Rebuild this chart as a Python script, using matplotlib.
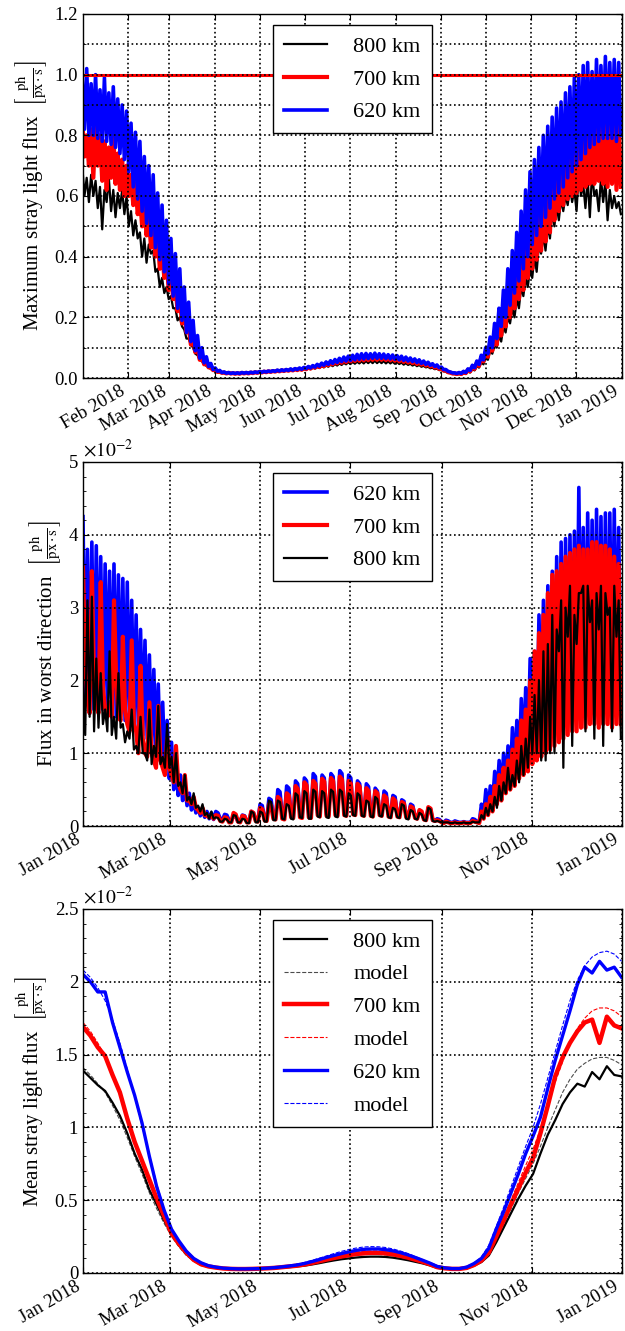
import numpy as np
import matplotlib
matplotlib.use('Agg')
from matplotlib import pyplot as plt
import matplotlib.dates as mdates
from matplotlib import ticker

# Time grids ###########################################################
# noisy series: a peak and a trough reading every 3 days (trough 1.5 d later)
t0 = np.datetime64('2018-01-01T00', 'h')
days_noisy = np.arange(0, 364, 3)
days_mean = np.arange(0, 366, 5)       # smooth series, one sample every 5 days
dates_hi = t0 + (days_noisy * 24).astype('timedelta64[h]')
dates_lo = dates_hi + np.timedelta64(36, 'h')
dates_mean = t0 + (days_mean * 24).astype('timedelta64[h]')

# Maximum stray light flux [ph/(px s)] ##################################
max_800_hi = [0.70, 0.66, 0.67, 0.65, 0.63, 0.62, 0.66, 0.62, 0.61, 0.62,
              0.60, 0.55, 0.52, 0.48, 0.46, 0.44, 0.42, 0.36, 0.33, 0.30,
              0.27, 0.23, 0.20, 0.16, 0.13, 0.10, 0.075, 0.055, 0.04, 0.03,
              0.024, 0.018, 0.016, 0.015, 0.015, 0.015, 0.015, 0.016, 0.017, 0.018,
              0.019, 0.020, 0.021, 0.022, 0.023, 0.024, 0.025, 0.026, 0.027, 0.029,
              0.030, 0.032, 0.034, 0.036, 0.039, 0.041, 0.044, 0.046, 0.048, 0.050,
              0.052, 0.053, 0.054, 0.055, 0.056, 0.056, 0.057, 0.056, 0.056, 0.055,
              0.054, 0.053, 0.051, 0.049, 0.047, 0.045, 0.043, 0.040, 0.037, 0.034,
              0.031, 0.026, 0.021, 0.016, 0.013, 0.013, 0.016, 0.021, 0.029, 0.039,
              0.052, 0.07, 0.09, 0.11, 0.14, 0.17, 0.20, 0.23, 0.26, 0.30,
              0.33, 0.36, 0.40, 0.44, 0.47, 0.50, 0.55, 0.57, 0.59, 0.60,
              0.63, 0.62, 0.68, 0.64, 0.66, 0.68, 0.62, 0.66, 0.65, 0.62,
              0.60, 0.58]
max_800_lo = [0.60, 0.58, 0.60, 0.56, 0.49, 0.58, 0.55, 0.53, 0.56, 0.54,
              0.50, 0.47, 0.46, 0.40, 0.38, 0.41, 0.35, 0.30, 0.28, 0.26,
              0.23, 0.19, 0.17, 0.13, 0.11, 0.08, 0.06, 0.045, 0.035, 0.025,
              0.020, 0.016, 0.014, 0.013, 0.013, 0.013, 0.014, 0.014, 0.015, 0.016,
              0.017, 0.018, 0.019, 0.020, 0.021, 0.022, 0.023, 0.024, 0.025, 0.026,
              0.027, 0.029, 0.031, 0.033, 0.035, 0.037, 0.039, 0.041, 0.043, 0.045,
              0.046, 0.047, 0.048, 0.048, 0.049, 0.049, 0.049, 0.049, 0.048, 0.048,
              0.047, 0.046, 0.044, 0.043, 0.041, 0.039, 0.037, 0.035, 0.032, 0.029,
              0.026, 0.022, 0.017, 0.013, 0.011, 0.011, 0.014, 0.018, 0.025, 0.034,
              0.045, 0.06, 0.08, 0.10, 0.12, 0.15, 0.18, 0.20, 0.23, 0.27,
              0.30, 0.33, 0.35, 0.41, 0.42, 0.46, 0.50, 0.52, 0.55, 0.57,
              0.58, 0.55, 0.60, 0.56, 0.53, 0.60, 0.55, 0.58, 0.52, 0.56,
              0.56, 0.54]
max_700_hi = [0.85, 0.80, 0.82, 0.84, 0.80, 0.78, 0.76, 0.80, 0.74, 0.72,
              0.70, 0.67, 0.64, 0.60, 0.57, 0.54, 0.50, 0.47, 0.43, 0.39,
              0.35, 0.31, 0.27, 0.22, 0.17, 0.13, 0.10, 0.07, 0.05, 0.035,
              0.027, 0.021, 0.018, 0.017, 0.016, 0.016, 0.017, 0.017, 0.018, 0.019,
              0.020, 0.021, 0.022, 0.023, 0.024, 0.025, 0.026, 0.027, 0.029, 0.030,
              0.032, 0.035, 0.038, 0.041, 0.045, 0.049, 0.052, 0.056, 0.059, 0.062,
              0.065, 0.067, 0.069, 0.071, 0.072, 0.072, 0.073, 0.072, 0.071, 0.069,
              0.068, 0.066, 0.064, 0.062, 0.059, 0.056, 0.053, 0.050, 0.046, 0.042,
              0.038, 0.032, 0.025, 0.018, 0.015, 0.016, 0.020, 0.027, 0.037, 0.050,
              0.066, 0.085, 0.11, 0.14, 0.18, 0.22, 0.26, 0.30, 0.34, 0.38,
              0.43, 0.48, 0.50, 0.53, 0.57, 0.62, 0.66, 0.70, 0.73, 0.75,
              0.77, 0.78, 0.80, 0.86, 0.82, 0.88, 0.85, 0.90, 0.86, 0.87,
              0.88, 0.86]
max_700_lo = [0.73, 0.70, 0.66, 0.70, 0.65, 0.62, 0.66, 0.64, 0.62, 0.60,
              0.60, 0.57, 0.54, 0.50, 0.47, 0.43, 0.40, 0.36, 0.33, 0.29,
              0.26, 0.22, 0.18, 0.15, 0.11, 0.085, 0.06, 0.045, 0.035, 0.026,
              0.020, 0.017, 0.015, 0.015, 0.014, 0.014, 0.015, 0.015, 0.016, 0.017,
              0.018, 0.019, 0.020, 0.021, 0.022, 0.023, 0.024, 0.025, 0.026, 0.027,
              0.029, 0.031, 0.034, 0.036, 0.039, 0.042, 0.045, 0.048, 0.050, 0.052,
              0.054, 0.056, 0.057, 0.058, 0.059, 0.060, 0.060, 0.060, 0.059, 0.058,
              0.057, 0.055, 0.053, 0.051, 0.049, 0.046, 0.044, 0.041, 0.038, 0.034,
              0.030, 0.025, 0.019, 0.015, 0.013, 0.013, 0.016, 0.022, 0.030, 0.040,
              0.055, 0.07, 0.09, 0.11, 0.14, 0.17, 0.20, 0.23, 0.26, 0.29,
              0.33, 0.36, 0.39, 0.42, 0.45, 0.48, 0.52, 0.55, 0.57, 0.59,
              0.60, 0.61, 0.62, 0.63, 0.64, 0.64, 0.65, 0.64, 0.63, 0.64,
              0.62, 0.63]
max_620_hi = [0.98, 1.02, 0.97, 1.00, 0.95, 0.99, 0.94, 0.96, 0.92, 0.90,
              0.88, 0.84, 0.81, 0.78, 0.73, 0.70, 0.67, 0.61, 0.57, 0.52,
              0.46, 0.41, 0.36, 0.30, 0.25, 0.19, 0.14, 0.10, 0.07, 0.048,
              0.033, 0.025, 0.020, 0.018, 0.017, 0.017, 0.018, 0.018, 0.019, 0.020,
              0.021, 0.022, 0.023, 0.024, 0.026, 0.027, 0.028, 0.030, 0.031, 0.033,
              0.035, 0.038, 0.041, 0.045, 0.049, 0.053, 0.057, 0.061, 0.065, 0.069,
              0.072, 0.075, 0.078, 0.080, 0.081, 0.080, 0.082, 0.080, 0.079, 0.077,
              0.076, 0.074, 0.072, 0.069, 0.066, 0.063, 0.060, 0.056, 0.052, 0.047,
              0.043, 0.036, 0.028, 0.020, 0.017, 0.018, 0.022, 0.030, 0.042, 0.056,
              0.075, 0.10, 0.135, 0.18, 0.23, 0.29, 0.36, 0.42, 0.48, 0.55,
              0.62, 0.68, 0.72, 0.76, 0.80, 0.83, 0.86, 0.89, 0.91, 0.94,
              0.96, 0.99, 1.00, 1.03, 1.04, 1.01, 1.05, 1.03, 1.06, 1.04,
              1.05, 1.04]
max_620_lo = [0.82, 0.80, 0.80, 0.79, 0.78, 0.78, 0.77, 0.76, 0.74, 0.72,
              0.68, 0.63, 0.59, 0.55, 0.51, 0.47, 0.43, 0.39, 0.35, 0.31,
              0.27, 0.23, 0.19, 0.15, 0.12, 0.09, 0.065, 0.05, 0.038, 0.028,
              0.022, 0.018, 0.016, 0.015, 0.015, 0.015, 0.016, 0.016, 0.017, 0.018,
              0.019, 0.020, 0.021, 0.022, 0.023, 0.024, 0.025, 0.026, 0.028, 0.029,
              0.031, 0.033, 0.036, 0.039, 0.042, 0.045, 0.048, 0.051, 0.054, 0.056,
              0.058, 0.060, 0.062, 0.063, 0.064, 0.065, 0.065, 0.065, 0.064, 0.063,
              0.062, 0.060, 0.058, 0.056, 0.054, 0.051, 0.048, 0.045, 0.042, 0.038,
              0.034, 0.028, 0.022, 0.017, 0.015, 0.015, 0.018, 0.025, 0.034, 0.045,
              0.06, 0.08, 0.10, 0.13, 0.17, 0.20, 0.24, 0.28, 0.32, 0.36,
              0.40, 0.44, 0.47, 0.50, 0.53, 0.56, 0.59, 0.61, 0.63, 0.66,
              0.68, 0.70, 0.72, 0.74, 0.76, 0.77, 0.78, 0.79, 0.79, 0.79,
              0.78, 0.80]
max_limit = 1.0

# Flux in worst direction [1e-2 ph/(px s)] ##############################
worst_620_hi = [4.25, 3.80, 3.90, 3.85, 3.70, 3.60, 3.50, 3.60, 3.45, 3.40,
                3.35, 3.10, 2.90, 2.70, 2.55, 2.35, 2.15, 1.95, 1.70, 1.45,
                1.15, 0.90, 0.70, 0.55, 0.45, 0.35, 0.25, 0.22, 0.20, 0.18,
                0.20, 0.10, 0.16, 0.08, 0.14, 0.06, 0.15, 0.07, 0.20, 0.08,
                0.30, 0.10, 0.38, 0.12, 0.50, 0.15, 0.55, 0.14, 0.62, 0.17,
                0.66, 0.15, 0.72, 0.18, 0.70, 0.16, 0.72, 0.20, 0.76, 0.18,
                0.70, 0.20, 0.62, 0.18, 0.58, 0.20, 0.52, 0.17, 0.48, 0.16,
                0.42, 0.16, 0.36, 0.14, 0.30, 0.13, 0.20, 0.10, 0.25, 0.08,
                0.10, 0.06, 0.08, 0.05, 0.07, 0.05, 0.06, 0.05, 0.10, 0.06,
                0.30, 0.50, 0.55, 0.75, 0.90, 1.00, 1.10, 1.35, 1.45, 1.75,
                1.90, 2.30, 2.40, 2.90, 3.10, 3.30, 3.50, 3.70, 3.90, 3.95,
                4.00, 4.05, 4.65, 4.10, 4.30, 4.20, 4.35, 4.25, 4.30, 4.30,
                4.35, 4.10]
worst_620_lo = [1.70, 1.55, 1.60, 1.75, 1.60, 1.65, 1.60, 1.50, 1.55, 1.45,
                1.40, 1.35, 1.35, 1.25, 1.20, 1.10, 1.00, 0.90, 0.80, 0.65,
                0.50, 0.42, 0.35, 0.28, 0.22, 0.18, 0.14, 0.12, 0.10, 0.09,
                0.18, 0.09, 0.15, 0.07, 0.13, 0.06, 0.14, 0.06, 0.18, 0.07,
                0.28, 0.09, 0.36, 0.11, 0.47, 0.13, 0.52, 0.13, 0.58, 0.15,
                0.62, 0.14, 0.68, 0.16, 0.66, 0.15, 0.68, 0.18, 0.72, 0.17,
                0.66, 0.18, 0.58, 0.17, 0.54, 0.18, 0.48, 0.16, 0.45, 0.15,
                0.40, 0.15, 0.34, 0.13, 0.28, 0.12, 0.18, 0.09, 0.23, 0.07,
                0.09, 0.05, 0.07, 0.05, 0.06, 0.05, 0.05, 0.05, 0.09, 0.05,
                0.15, 0.20, 0.30, 0.40, 0.45, 0.55, 0.60, 0.70, 0.80, 0.95,
                1.00, 1.15, 1.20, 1.30, 1.40, 1.45, 1.50, 1.55, 1.60, 1.65,
                1.70, 1.70, 1.80, 1.75, 1.90, 1.85, 1.80, 1.75, 1.70, 1.80,
                2.00, 1.90]
worst_700_hi = [3.55, 1.70, 3.50, 1.65, 3.35, 1.60, 1.70, 3.10, 1.50, 2.60,
                1.40, 2.55, 1.30, 2.20, 1.00, 1.70, 0.90, 1.65, 0.80, 1.20,
                0.70, 1.10, 0.50, 0.70, 0.35, 0.40, 0.22, 0.25, 0.14, 0.15,
                0.15, 0.07, 0.12, 0.05, 0.18, 0.06, 0.14, 0.05, 0.20, 0.07,
                0.25, 0.08, 0.30, 0.10, 0.40, 0.10, 0.45, 0.12, 0.55, 0.12,
                0.60, 0.12, 0.62, 0.15, 0.65, 0.14, 0.66, 0.15, 0.68, 0.15,
                0.62, 0.16, 0.58, 0.15, 0.52, 0.14, 0.48, 0.15, 0.42, 0.13,
                0.38, 0.13, 0.33, 0.12, 0.27, 0.11, 0.22, 0.09, 0.26, 0.08,
                0.08, 0.05, 0.06, 0.04, 0.05, 0.04, 0.05, 0.04, 0.07, 0.05,
                0.20, 0.30, 0.40, 0.55, 0.70, 0.80, 0.90, 1.05, 1.20, 1.45,
                1.60, 2.00, 2.40, 2.65, 2.90, 3.20, 3.45, 3.50, 3.60, 3.70,
                3.75, 3.80, 3.85, 3.80, 3.80, 3.90, 3.90, 3.85, 3.85, 3.80,
                3.70, 3.60]
worst_700_lo = [2.20, 1.55, 2.00, 1.55, 1.90, 1.50, 1.50, 2.00, 1.45, 1.60,
                1.30, 1.40, 1.00, 1.20, 0.95, 1.00, 0.80, 0.90, 0.70, 0.80,
                0.60, 0.60, 0.45, 0.35, 0.30, 0.25, 0.18, 0.15, 0.12, 0.10,
                0.14, 0.06, 0.11, 0.05, 0.16, 0.05, 0.13, 0.05, 0.18, 0.06,
                0.23, 0.07, 0.28, 0.09, 0.37, 0.09, 0.42, 0.11, 0.51, 0.11,
                0.56, 0.11, 0.58, 0.13, 0.61, 0.13, 0.62, 0.14, 0.64, 0.14,
                0.58, 0.15, 0.54, 0.14, 0.48, 0.13, 0.45, 0.14, 0.39, 0.12,
                0.35, 0.12, 0.31, 0.11, 0.25, 0.10, 0.20, 0.08, 0.24, 0.07,
                0.07, 0.04, 0.05, 0.04, 0.04, 0.04, 0.04, 0.04, 0.06, 0.04,
                0.10, 0.15, 0.20, 0.30, 0.35, 0.45, 0.50, 0.55, 0.65, 0.70,
                0.75, 0.85, 0.90, 0.95, 1.00, 1.05, 1.10, 1.15, 1.20, 1.25,
                1.30, 1.30, 1.35, 1.35, 1.40, 1.40, 1.35, 1.40, 1.40, 1.35,
                1.40, 1.40]
worst_800_hi = [2.00, 3.10, 3.15, 2.30, 2.10, 1.60, 2.40, 1.50, 2.10, 1.40,
                1.30, 1.60, 1.10, 1.50, 1.00, 1.60, 1.10, 1.65, 0.95, 1.40,
                0.95, 1.00, 0.60, 0.70, 0.40, 0.45, 0.28, 0.30, 0.18, 0.20,
                0.12, 0.06, 0.10, 0.05, 0.15, 0.05, 0.10, 0.04, 0.20, 0.05,
                0.20, 0.06, 0.35, 0.08, 0.35, 0.10, 0.30, 0.10, 0.45, 0.12,
                0.48, 0.10, 0.50, 0.13, 0.48, 0.12, 0.50, 0.13, 0.50, 0.14,
                0.45, 0.15, 0.45, 0.14, 0.35, 0.13, 0.40, 0.14, 0.30, 0.12,
                0.25, 0.12, 0.30, 0.10, 0.22, 0.10, 0.18, 0.08, 0.25, 0.07,
                0.07, 0.05, 0.05, 0.04, 0.05, 0.04, 0.05, 0.04, 0.06, 0.05,
                0.15, 0.25, 0.30, 0.40, 0.55, 0.60, 0.80, 0.70, 0.90, 1.10,
                1.20, 1.50, 1.80, 2.00, 2.40, 2.50, 2.90, 2.70, 3.10, 3.00,
                3.30, 2.90, 3.20, 3.30, 3.30, 3.10, 3.20, 3.30, 3.20, 3.00,
                3.30, 3.10]
worst_800_lo = [1.25, 1.50, 1.30, 1.35, 1.40, 1.30, 1.25, 1.20, 1.35, 1.15,
                1.20, 1.05, 1.00, 1.00, 0.90, 0.85, 0.95, 0.85, 0.80, 0.80,
                0.60, 0.55, 0.45, 0.35, 0.30, 0.25, 0.20, 0.15, 0.10, 0.10,
                0.11, 0.06, 0.09, 0.05, 0.14, 0.05, 0.09, 0.04, 0.18, 0.05,
                0.18, 0.06, 0.33, 0.08, 0.33, 0.09, 0.28, 0.09, 0.42, 0.11,
                0.45, 0.10, 0.47, 0.12, 0.45, 0.11, 0.47, 0.12, 0.47, 0.13,
                0.42, 0.14, 0.42, 0.13, 0.33, 0.12, 0.37, 0.13, 0.28, 0.11,
                0.23, 0.11, 0.28, 0.09, 0.20, 0.09, 0.16, 0.07, 0.23, 0.06,
                0.06, 0.05, 0.05, 0.04, 0.04, 0.04, 0.04, 0.04, 0.05, 0.05,
                0.10, 0.15, 0.20, 0.25, 0.35, 0.45, 0.50, 0.55, 0.60, 0.70,
                0.80, 1.00, 1.00, 0.90, 0.90, 1.00, 1.00, 2.40, 0.80, 2.60,
                1.10, 2.50, 3.20, 1.30, 2.80, 1.20, 2.70, 1.10, 2.90, 1.30,
                2.60, 1.20]

# Mean stray light flux and model [1e-2 ph/(px s)] ######################
mean_800 = [1.39, 1.34, 1.29, 1.25, 1.17, 1.08, 0.96, 0.82, 0.71, 0.57,
            0.47, 0.36, 0.27, 0.19, 0.13, 0.085, 0.055, 0.042, 0.035, 0.030,
            0.027, 0.026, 0.026, 0.027, 0.028, 0.030, 0.032, 0.036, 0.040, 0.045,
            0.050, 0.058, 0.067, 0.077, 0.086, 0.094, 0.100, 0.106, 0.110, 0.112,
            0.112, 0.110, 0.105, 0.097, 0.088, 0.077, 0.066, 0.052, 0.035, 0.030,
            0.026, 0.026, 0.032, 0.050, 0.075, 0.12, 0.21, 0.31, 0.41, 0.51,
            0.60, 0.68, 0.82, 0.95, 1.05, 1.16, 1.24, 1.30, 1.28, 1.38,
            1.33, 1.42, 1.36, 1.35]
model_800 = [1.41, 1.36, 1.30, 1.24, 1.15, 1.05, 0.93, 0.80, 0.68, 0.55,
             0.44, 0.34, 0.25, 0.18, 0.12, 0.082, 0.057, 0.043, 0.035, 0.030,
             0.027, 0.026, 0.026, 0.027, 0.028, 0.030, 0.033, 0.037, 0.042, 0.048,
             0.055, 0.064, 0.075, 0.086, 0.097, 0.107, 0.116, 0.122, 0.126, 0.128,
             0.127, 0.124, 0.117, 0.108, 0.096, 0.083, 0.068, 0.053, 0.038, 0.030,
             0.026, 0.026, 0.032, 0.052, 0.080, 0.13, 0.22, 0.33, 0.44, 0.55,
             0.65, 0.75, 0.87, 1.00, 1.12, 1.24, 1.33, 1.40, 1.44, 1.47,
             1.48, 1.48, 1.46, 1.43]
mean_700 = [1.69, 1.63, 1.55, 1.49, 1.36, 1.24, 1.06, 0.90, 0.77, 0.64,
            0.51, 0.39, 0.27, 0.20, 0.14, 0.09, 0.06, 0.045, 0.037, 0.031,
            0.028, 0.027, 0.027, 0.028, 0.030, 0.032, 0.035, 0.040, 0.045, 0.050,
            0.058, 0.068, 0.080, 0.092, 0.103, 0.113, 0.122, 0.130, 0.135, 0.138,
            0.138, 0.135, 0.128, 0.118, 0.106, 0.092, 0.077, 0.060, 0.040, 0.032,
            0.028, 0.028, 0.035, 0.055, 0.085, 0.14, 0.25, 0.36, 0.47, 0.58,
            0.69, 0.79, 0.96, 1.15, 1.35, 1.48, 1.58, 1.66, 1.72, 1.74,
            1.58, 1.76, 1.70, 1.68]
model_700 = [1.72, 1.66, 1.58, 1.49, 1.37, 1.23, 1.07, 0.91, 0.76, 0.62,
             0.49, 0.37, 0.27, 0.19, 0.13, 0.088, 0.062, 0.047, 0.038, 0.032,
             0.028, 0.027, 0.027, 0.028, 0.029, 0.032, 0.036, 0.041, 0.047, 0.054,
             0.063, 0.074, 0.087, 0.100, 0.113, 0.125, 0.136, 0.144, 0.149, 0.151,
             0.150, 0.146, 0.138, 0.127, 0.113, 0.097, 0.079, 0.061, 0.044, 0.034,
             0.029, 0.029, 0.036, 0.058, 0.092, 0.15, 0.26, 0.38, 0.50, 0.62,
             0.74, 0.85, 0.99, 1.15, 1.31, 1.45, 1.58, 1.68, 1.75, 1.80,
             1.82, 1.82, 1.80, 1.76]
mean_620 = [2.05, 2.00, 1.93, 1.93, 1.72, 1.55, 1.38, 1.22, 1.03, 0.80,
            0.59, 0.43, 0.30, 0.22, 0.15, 0.10, 0.07, 0.05, 0.04, 0.033,
            0.030, 0.028, 0.028, 0.029, 0.030, 0.033, 0.037, 0.042, 0.048, 0.055,
            0.065, 0.078, 0.092, 0.107, 0.120, 0.133, 0.145, 0.155, 0.162, 0.165,
            0.165, 0.160, 0.152, 0.140, 0.125, 0.107, 0.088, 0.068, 0.045, 0.035,
            0.030, 0.030, 0.040, 0.065, 0.10, 0.17, 0.30, 0.42, 0.55, 0.68,
            0.82, 0.94, 1.07, 1.27, 1.46, 1.63, 1.80, 1.98, 2.10, 2.06,
            2.14, 2.08, 2.10, 2.03]
model_620 = [2.08, 2.03, 1.96, 1.87, 1.74, 1.58, 1.40, 1.21, 1.01, 0.81,
             0.61, 0.44, 0.31, 0.21, 0.14, 0.095, 0.066, 0.050, 0.040, 0.034,
             0.030, 0.029, 0.029, 0.030, 0.031, 0.034, 0.039, 0.045, 0.052, 0.061,
             0.072, 0.086, 0.101, 0.117, 0.133, 0.148, 0.161, 0.171, 0.178, 0.181,
             0.180, 0.175, 0.165, 0.151, 0.134, 0.114, 0.092, 0.070, 0.050, 0.038,
             0.032, 0.032, 0.040, 0.068, 0.11, 0.19, 0.32, 0.45, 0.59, 0.73,
             0.87, 1.00, 1.16, 1.34, 1.52, 1.70, 1.87, 2.01, 2.11, 2.17,
             2.20, 2.21, 2.19, 2.14]

# Style ################################################################
plt.rcParams['font.family'] = 'serif'
plt.rcParams['font.serif'] = ['Liberation Serif', 'DejaVu Serif']
plt.rcParams['mathtext.fontset'] = 'stix'
plt.rcParams['xtick.direction'] = 'in'
plt.rcParams['ytick.direction'] = 'in'
plt.rcParams['xtick.top'] = True
plt.rcParams['ytick.right'] = True
plt.rcParams['xtick.major.size'] = 4
plt.rcParams['ytick.major.size'] = 4
plt.rcParams['ytick.minor.size'] = 2
plt.rcParams['axes.linewidth'] = 1.0

unit = r'$\left[\frac{\mathrm{ph}}{\mathrm{px\cdot s}}\right]$'
xstart = np.datetime64('2018-01-01T00')
xend = np.datetime64('2019-01-01T06')

def series(hi, lo):
	# peak and trough readings merged into one time-ordered trace
	x = np.empty(2 * len(hi), dtype='datetime64[h]')
	y = np.empty(2 * len(hi))
	x[0::2] = dates_hi
	x[1::2] = dates_lo
	y[0::2] = hi
	y[1::2] = lo
	return x, y

fig = plt.figure(figsize=(6.25, 13.31), dpi=100)
ax1 = fig.add_axes([0.1328, 0.716, 0.8624, 0.2735])
ax2 = fig.add_axes([0.1328, 0.3794, 0.8624, 0.2735])
ax3 = fig.add_axes([0.1328, 0.0436, 0.8624, 0.2735])

def dress(ax, months, ymax, ymajor, yminor, label, scaled):
	ax.set_axisbelow(False)
	ax.set_ylim(0, ymax)
	ax.xaxis.set_major_locator(mdates.MonthLocator(bymonth=months))
	ax.xaxis.set_major_formatter(mdates.DateFormatter('%b %Y'))
	ax.yaxis.set_major_locator(ticker.MultipleLocator(ymajor))
	ax.yaxis.set_minor_locator(ticker.MultipleLocator(yminor))
	if scaled:
		ax.yaxis.set_major_formatter(ticker.FormatStrFormatter('%g'))
		ax.text(0, 1.004, r'$\times10^{-2}$', transform=ax.transAxes,
				ha='left', va='bottom', fontsize=14)
	else:
		ax.yaxis.set_major_formatter(ticker.FormatStrFormatter('%.1f'))
	ax.grid(True, which='major', color='k', linestyle=':', linewidth=1.2)
	ax.tick_params(axis='both', which='major', labelsize=13.5)
	for lab in ax.get_xticklabels():
		lab.set_rotation(30)
		lab.set_ha('right')
	ax.set_ylabel(label + '  ' + unit, fontsize=15)

def legend(ax):
	leg = ax.legend(loc='upper center', fontsize=16, fancybox=False,
					framealpha=1, edgecolor='k', handlelength=1.9,
					handletextpad=1.2, labelspacing=0.55, borderpad=0.5)
	leg.get_frame().set_linewidth(1.0)

# Panel 1: maximum flux ##################################################
ax1.plot(*series(max_800_hi, max_800_lo), color='k', lw=1.6, label='800 km')
ax1.plot(*series(max_700_hi, max_700_lo), color='r', lw=3.0, label='700 km')
ax1.plot(*series(max_620_hi, max_620_lo), color='b', lw=2.6, label='620 km')
ax1.axhline(max_limit, color='r', lw=2.2)
dress(ax1, range(1, 13), 1.2, 0.2, 0.1, 'Maximum stray light flux', False)
ax1.grid(True, which='minor', axis='y', color='k', linestyle=':', linewidth=1.2)
ax1.set_xlim(xstart + np.timedelta64(12, 'h'), xend)
legend(ax1)

# Panel 2: worst direction ###############################################
ax2.plot(*series(worst_620_hi, worst_620_lo), color='b', lw=2.6, label='620 km')
ax2.plot(*series(worst_700_hi, worst_700_lo), color='r', lw=3.0, label='700 km')
ax2.plot(*series(worst_800_hi, worst_800_lo), color='k', lw=1.6, label='800 km')
dress(ax2, [1, 3, 5, 7, 9, 11], 5, 1, 0.2, 'Flux in worst direction', True)
ax2.set_xlim(xstart, xend)
legend(ax2)

# Panel 3: mean flux and model ###########################################
ax3.plot(dates_mean, mean_800, color='k', lw=1.6, label='800 km')
ax3.plot(dates_mean, model_800, color='k', alpha=0.7, lw=0.8, ls='--', label='model')
ax3.plot(dates_mean, mean_700, color='r', lw=3.2, label='700 km')
ax3.plot(dates_mean, model_700, color='r', lw=0.8, ls='--', label='model')
ax3.plot(dates_mean, mean_620, color='b', lw=2.4, label='620 km')
ax3.plot(dates_mean, model_620, color='b', lw=0.8, ls='--', label='model')
dress(ax3, [1, 3, 5, 7, 9, 11], 2.5, 0.5, 0.1, 'Mean stray light flux', True)
ax3.set_xlim(xstart, xend)
legend(ax3)

fig.savefig('out.png', dpi=100)
